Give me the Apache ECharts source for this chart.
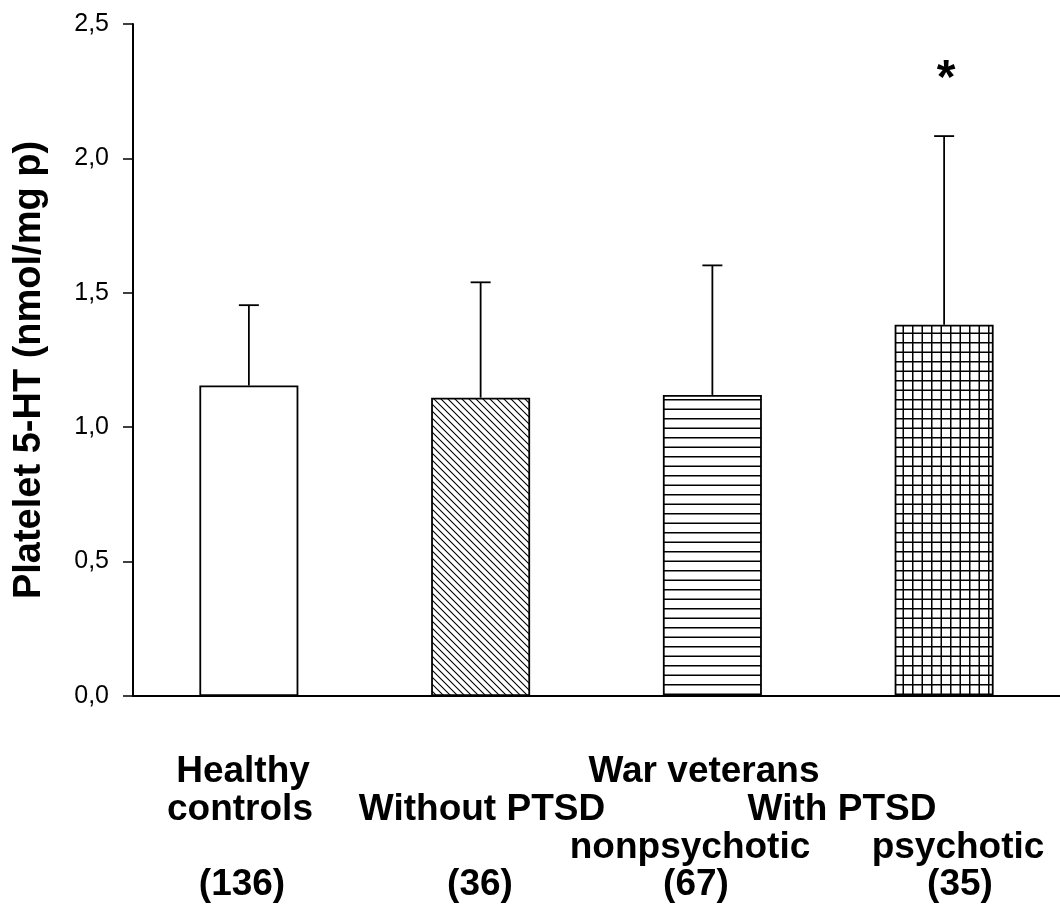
<!DOCTYPE html>
<html><head><meta charset="utf-8">
<script src="https://cdn.jsdelivr.net/npm/echarts@6/dist/echarts.min.js"></script>
<style>html,body{margin:0;padding:0;background:#fff}#c{width:1060px;height:918px}</style>
</head><body><div id="c"></div>
<script>
// ---- data ----
const groups = ['Healthy controls', 'Without PTSD', 'With PTSD nonpsychotic', 'With PTSD psychotic'];
const means = [1.155, 1.110, 1.120, 1.381];
const sds = [0.299, 0.429, 0.482, 0.702];
const significance = ['', '', '', '*'];
const yTickValues = [0, 0.5, 1.0, 1.5, 2.0, 2.5];
const labelLines = [
  ['Healthy', 'controls', '(136)'],
  ['Without PTSD', '(36)'],
  ['War veterans', 'With PTSD', 'nonpsychotic', 'psychotic', '(67)', '(35)']
];
const yTitle = 'Platelet 5-HT (nmol/mg p)';

// ---- patterns ----
function makePattern(kind) {
  const c = document.createElement('canvas');
  const ctx = c.getContext('2d');
  if (kind === 'diag') {
    const s = 7; c.width = s; c.height = s;
    ctx.fillStyle = '#fff'; ctx.fillRect(0, 0, s, s);
    ctx.strokeStyle = '#000'; ctx.lineWidth = 1.1;
    ctx.beginPath();
    ctx.moveTo(-1, -1); ctx.lineTo(s + 1, s + 1);
    ctx.moveTo(-1, s - 1); ctx.lineTo(1, s + 1);
    ctx.moveTo(s - 1, -1); ctx.lineTo(s + 1, 1);
    ctx.stroke();
  } else if (kind === 'horiz') {
    c.width = 10; c.height = 19;
    ctx.fillStyle = '#fff'; ctx.fillRect(0, 0, c.width, c.height);
    ctx.fillStyle = '#000';
    ctx.fillRect(0, 0, c.width, 1.5);
    ctx.fillRect(0, 9.5, c.width, 1.5);
  } else if (kind === 'grid') {
    c.width = 19; c.height = 19;
    ctx.fillStyle = '#fff'; ctx.fillRect(0, 0, 19, 19);
    ctx.fillStyle = '#000';
    ctx.fillRect(0, 0, 19, 1.5); ctx.fillRect(0, 9.5, 19, 1.5);
    ctx.fillRect(0, 0, 1.5, 19); ctx.fillRect(9.5, 0, 1.5, 19);
  } else {
    c.width = 4; c.height = 4;
    ctx.fillStyle = '#fff'; ctx.fillRect(0, 0, 4, 4);
  }
  return { image: c, repeat: 'repeat' };
}
const fills = [makePattern('none'), makePattern('diag'), makePattern('horiz'), makePattern('grid')];

const chart = echarts.init(document.getElementById('c'), null, { renderer: 'canvas' });
const FONT = '"Liberation Sans", Arial, sans-serif';
const labelFont = 'bold 37px ' + FONT;

function txt(text, x, y) {
  return { type: 'text', x: x, y: y, style: { text: text, font: labelFont, fill: '#000', align: 'center', verticalAlign: 'middle' } };
}

chart.setOption({
  backgroundColor: '#fff',
  animation: false,
  grid: { left: 133, top: 24, width: 931, height: 672, containLabel: false },
  xAxis: {
    type: 'category',
    data: groups,
    axisLine: { lineStyle: { color: '#000', width: 2 } },
    axisTick: { show: false },
    axisLabel: { show: false },
    splitLine: { show: false }
  },
  yAxis: {
    type: 'value',
    min: yTickValues[0],
    max: yTickValues[yTickValues.length - 1],
    interval: 0.5,
    axisLine: { show: true, lineStyle: { color: '#000', width: 2 } },
    axisTick: { show: true, inside: false, length: 10, lineStyle: { color: '#000', width: 1.5 } },
    axisLabel: {
      margin: 24, fontFamily: FONT, fontSize: 25, color: '#000',
      formatter: v => v.toFixed(1).replace('.', ',')
    },
    splitLine: { show: false }
  },
  series: [
    {
      type: 'bar',
      barWidth: 99,
      data: means.map((m, i) => ({ value: m, itemStyle: { color: fills[i] } })),
      itemStyle: { borderColor: '#000', borderWidth: 1.8 },
      z: 2
    },
    {
      type: 'custom',
      z: 3,
      data: means.map((m, i) => [i, m, m + sds[i], i]),
      renderItem: function (params, api) {
        const i = api.value(3);
        const b = api.coord([api.value(0), api.value(1)]);
        const t = api.coord([api.value(0), api.value(2)]);
        const capHalf = 10;
        const st = { stroke: '#000', lineWidth: 1.8 };
        const children = [
          { type: 'line', shape: { x1: b[0], y1: b[1], x2: t[0], y2: t[1] }, style: st },
          { type: 'line', shape: { x1: t[0] - capHalf, y1: t[1], x2: t[0] + capHalf, y2: t[1] }, style: st }
        ];
        if (significance[i]) {
          children.push({ type: 'text', x: t[0] + 2, y: t[1] - 56, style: { text: significance[i], font: 'bold 48px ' + FONT, fill: '#000', align: 'center', verticalAlign: 'middle' } });
        }
        return { type: 'group', children: children };
      }
    }
  ],
  graphic: [
    { type: 'text', x: 30, y: 370, rotation: Math.PI / 2,
      style: { text: yTitle, font: 'bold 38px ' + FONT, fill: '#000', align: 'center', verticalAlign: 'middle' } },
    txt(labelLines[0][0], 243, 772),
    txt(labelLines[0][1], 240, 810),
    txt(labelLines[0][2], 242, 885),
    txt(labelLines[1][0], 482, 810),
    txt(labelLines[1][1], 480, 885),
    txt(labelLines[2][0], 704, 772),
    txt(labelLines[2][1], 842, 810),
    txt(labelLines[2][2], 690, 848),
    txt(labelLines[2][3], 958, 848),
    txt(labelLines[2][4], 696, 885),
    txt(labelLines[2][5], 960, 885)
  ]
});
</script>
</body></html>
